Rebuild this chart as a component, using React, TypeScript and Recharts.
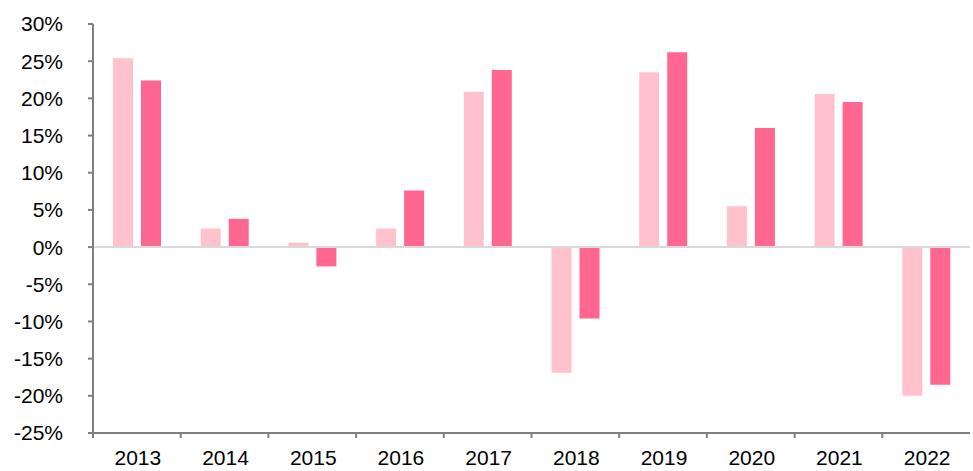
import React from 'react';
import { BarChart, Bar, XAxis, YAxis, ReferenceLine } from 'recharts';

const categories = ['2013', '2014', '2015', '2016', '2017', '2018', '2019', '2020', '2021', '2022'];
const seriesLight = [25.4, 2.5, 0.6, 2.5, 20.9, -16.9, 23.5, 5.5, 20.6, -20.0];
const seriesDark = [22.4, 3.8, -2.6, 7.6, 23.8, -9.6, 26.2, 16.0, 19.5, -18.5];
const yTicks = [-25, -20, -15, -10, -5, 0, 5, 10, 15, 20, 25, 30];

const data = categories.map((c, i) => ({ year: c, a: seriesLight[i], b: seriesDark[i] }));

const W = 973;
const H = 471;
const M = { top: 24, right: 3, left: 0, bottom: 0 };
const Y_W = 93;
const BAND = (W - M.right - M.left - Y_W) / categories.length;
const FONT = "'Liberation Sans', Arial, sans-serif";

const XTick = (props: any) => {
  const { x, y, payload } = props;
  const lx = x - BAND / 2;
  return (
    <g>
      <line x1={lx} y1={y} x2={lx} y2={y + 5} stroke="#7f7f7f" strokeWidth={2} />
      <text x={x + 1} y={y + 32} textAnchor="middle" fontSize={21} fill="#000" fontFamily={FONT}>
        {payload.value}
      </text>
    </g>
  );
};

export default function App() {
  return (
    <div style={{ position: 'absolute', left: 0, top: 0, width: W, height: H, background: '#fff' }}>
      <BarChart width={W} height={H} data={data} margin={M} barSize={20} barGap={8}>
        <ReferenceLine y={0} stroke="#d9d9d9" strokeWidth={2} />
        <XAxis
          dataKey="year"
          axisLine={{ stroke: '#7f7f7f', strokeWidth: 2 }}
          tickLine={false}
          tickSize={0}
          tickMargin={0}
          height={38}
          interval={0}
          tick={<XTick />}
        />
        <YAxis
          width={Y_W}
          domain={[-25, 30]}
          ticks={yTicks}
          interval={0}
          allowDataOverflow
          axisLine={{ stroke: '#7f7f7f', strokeWidth: 2 }}
          tickLine={{ stroke: '#7f7f7f', strokeWidth: 2 }}
          tickSize={5}
          tickMargin={25}
          tickFormatter={(v: number) => `${v}%`}
          tick={{ fontSize: 21, fill: '#000', fontFamily: FONT }}
        />
        <Bar dataKey="a" fill="#ffc2cd" isAnimationActive={false} />
        <Bar dataKey="b" fill="#ff6690" isAnimationActive={false} />
      </BarChart>
    </div>
  );
}
